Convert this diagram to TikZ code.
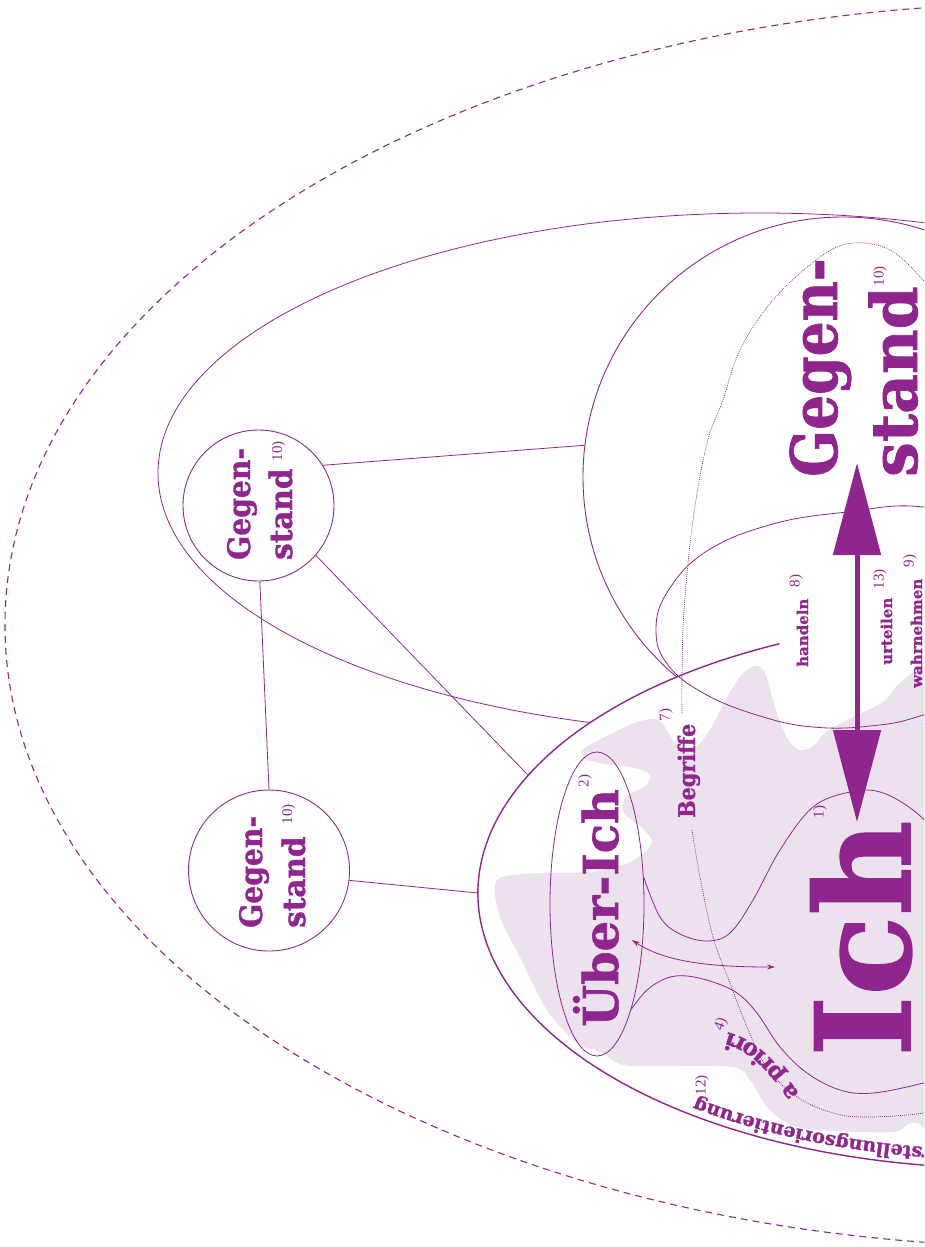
\documentclass[tikz,border=0pt]{standalone}
\usepackage{graphicx}
\usepackage{fontspec}
\setmainfont{DejaVu Serif}[BoldFeatures={FakeBold=1.2}]
\newfontfamily\supf{Liberation Serif}
\usetikzlibrary{arrows.meta,decorations.text,shapes.geometric}
\definecolor{pc}{RGB}{142,38,141}
\definecolor{blobc}{RGB}{236,226,238}
\newcommand{\slab}[1]{\bfseries\fontsize{#1}{#1}\selectfont}
\newcommand{\curvefont}{\bfseries\fontsize{19}{19}\selectfont}
\newcommand{\aprfont}{\bfseries\fontsize{23}{23}\selectfont}
\begin{document}
\begin{tikzpicture}[x=1pt,y=-1pt,
  thinline/.style={draw=pc, line width=0.8pt},
  lbl/.style={text=pc, inner sep=0pt, rotate=90},
  note/.style={text=pc, inner sep=0pt, rotate=90, font=\supf\fontsize{15}{15}\selectfont},
  gcircle/.style={circle, draw=pc, line width=0.9pt, inner sep=0pt, minimum size=#1},
  dotline/.style={draw=pc, line width=0.7pt, dash pattern=on 0.9pt off 1.1pt},
]
\useasboundingbox (0,0) rectangle (924,1247);
\clip (0,0) rectangle (924,1247);

% outer dashed ellipse
\draw[pc, line width=1.1pt, dash pattern=on 7pt off 5pt] (1055,625) ellipse [x radius=1050, y radius=622];
% outer solid ellipse
\draw[thinline] (760,473) ellipse [x radius=602, y radius=260];
% big Gegenstand circle
\node[gcircle=520pt] (bigG) at (843,477) {};
% small Gegenstand circles
\node[gcircle=151pt] (g1) at (258.5,505.5) {};
\node[gcircle=161pt] (g2) at (269,870.5) {};

% Ich region (white)
\node[ellipse, fill=white, minimum width=1044pt, minimum height=550pt, inner sep=0pt, outer sep=0pt] (ichE) at (1000,893) {};

% connectors
\draw[thinline] (g1.32) -- (bigG.173.2);
\draw[thinline] (g1.-41) -- (ichE.166.2);
\draw[thinline] (g1.-89.6) -- (g2.90.7);
\draw[thinline] (g2.-7) -- (ichE.180.4);

% blob
\fill[blobc] plot[smooth cycle, tension=0.5] coordinates {
 (497,880) (540,873) (590,872) (625,864) (645,852) (652,840) (640,826) (623,812)
 (626,797) (645,786) (650,775) (635,768) (605,764) (585,759) (582,750) (595,742)
 (615,732) (637,722) (656,719) (665,727) (676,744) (690,750) (702,741) (712,726)
 (727,697) (743,673) (757,666) (766,675) (775,707) (787,738) (800,750) (813,746)
 (827,731) (853,717) (883,702) (900,683) (923,667) (990,640) (990,1150)
 (917,1123) (893,1132) (817,1130) (787,1123) (767,1107) (750,1080) (733,1067)
 (660,1066) (623,1065) (600,1052) (577,1043) (547,1010) (520,957) (500,917)};

% handeln ellipse
\draw[thinline] plot[smooth cycle, tension=0.7] coordinates {
 (923,507) (847,512) (773,524) (707,551) (668,591) (656,630) (668,665)
 (705,694) (760,716) (813,727) (870,726) (923,715) (1010,680) (1060,610) (1010,530)};

% Begriffe dotted curve
\draw[dotline] plot[smooth, tension=0.6] coordinates {
 (965,330) (923,280) (890,250) (853,243) (820,257) (773,300) (740,350) (723,400)
 (707,443) (693,520) (684,610) (682,677) (682,713)};
\draw[dotline] plot[smooth, tension=0.6] coordinates {
 (692,830) (700,877) (713,937) (730,983) (747,1027) (767,1068) (797,1097)
 (830,1112) (863,1117) (923,1113) (965,1100)};

% Ich arc
\draw[pc, line width=1.4pt] ([shift={(245:522 and 275)}]ichE.center) arc[start angle=245, end angle=20, x radius=522, y radius=275];

% Ueber-Ich ellipse and funnel
\node[ellipse, draw=pc, line width=0.8pt, minimum width=94pt, minimum height=304pt, inner sep=0pt] (ueE) at (597,904) {};
\draw[thinline] plot[smooth, tension=0.6] coordinates {
 (ueE.30) (660,917) (680,934) (707,941) (730,933) (753,900) (780,850) (813,807)
 (850,792) (880,792) (913,810) (950,845)};
\draw[thinline] plot[smooth, tension=0.6] coordinates {
 (ueE.-72.7) (647,990) (667,978) (687,976) (713,982) (737,993) (757,1013)
 (780,1047) (807,1073) (840,1090) (873,1093) (923,1083) (960,1070)};

% small double arrow
\coordinate (sa1) at (632,940);
\coordinate (sa2) at (775,967);
\draw[pc, line width=0.8pt, {Stealth[length=8pt,width=5pt]}-{Stealth[length=8pt,width=5pt]}] (sa1) .. controls (665,962) and (710,967) .. (sa2);

% big double arrow
\coordinate (ba1) at (857,463);
\coordinate (ba2) at (857,822);
\draw[pc, line width=5pt, {Triangle[length=92pt,width=47pt]}-{Triangle[length=92pt,width=47pt]}] (ba1) -- (ba2);

% texts
\node[lbl, font=\slab{131}, anchor=base west] (ich) at (910,1057) {Ich};
\node[lbl, font=\slab{48}, anchor=base west] (ueber) at (618,1027) {Über-Ich};
\node[lbl, font=\slab{64}, anchor=base west] (bg1) at (837,477) {\scalebox{0.86}[1]{Gegen-}};
\node[lbl, font=\slab{64}, anchor=base west] (bg2) at (917,477) {\scalebox{0.96}[1]{stand}};
\node[lbl, font=\slab{31}, anchor=base west] (s1a) at (250,560) {\scalebox{0.91}[1]{Gegen-}};
\node[lbl, font=\slab{31}, anchor=base west] (s1b) at (292,560) {\scalebox{0.95}[1]{stand}};
\node[lbl, font=\slab{31}, anchor=base west] (s2a) at (262,928) {\scalebox{0.91}[1]{Gegen-}};
\node[lbl, font=\slab{31}, anchor=base west] (s2b) at (305,928) {\scalebox{0.95}[1]{stand}};
\node[lbl, font=\slab{23}, anchor=base west] (begr) at (695,818) {\scalebox{0.9}[1]{Begriffe}};
\node[lbl, font=\slab{15}, anchor=base west] (hand) at (808,667) {handeln};
\node[lbl, font=\slab{15}, anchor=base west] (urt) at (892,665) {urteilen};
\node[lbl, font=\slab{15}, anchor=base west] (wahr) at (922,688) {wahrnehmen};

% curved text: a priori
\path[decorate, decoration={text along path, text={|\aprfont|a priori}, text align=center, text color=pc}]
  (806,1103) .. controls (780,1068) and (760,1036) .. (716,1030);

% curved text: Vorstellungsorientierung
\path[decorate, decoration={text along path, text={|\curvefont|Vorstellungsorientierung}, text align=right, text color=pc}]
  ([shift={(20:505 and 257)}]ichE.center) arc[start angle=20, end angle=127, x radius=505, y radius=257];

% footnote numbers
\node[note] (n10a) at (880,276) {10)};
\node[note] (n10b) at (278.5,451) {10)};
\node[note] (n10c) at (288.5,814) {10)};
\node[note] (n2) at (585,781) {2)};
\node[note] (n1) at (820,812) {1)};
\node[note] (n7) at (666,715) {7)};
\node[note] (n8) at (796,581) {8)};
\node[note] (n13) at (880,579) {13)};
\node[note] (n9) at (910,561) {9)};
\node[note, rotate=-20] (n4) at (721,1024) {4)};
\node[note] (n12) at (702,1085) {12)};
\end{tikzpicture}
\end{document}
